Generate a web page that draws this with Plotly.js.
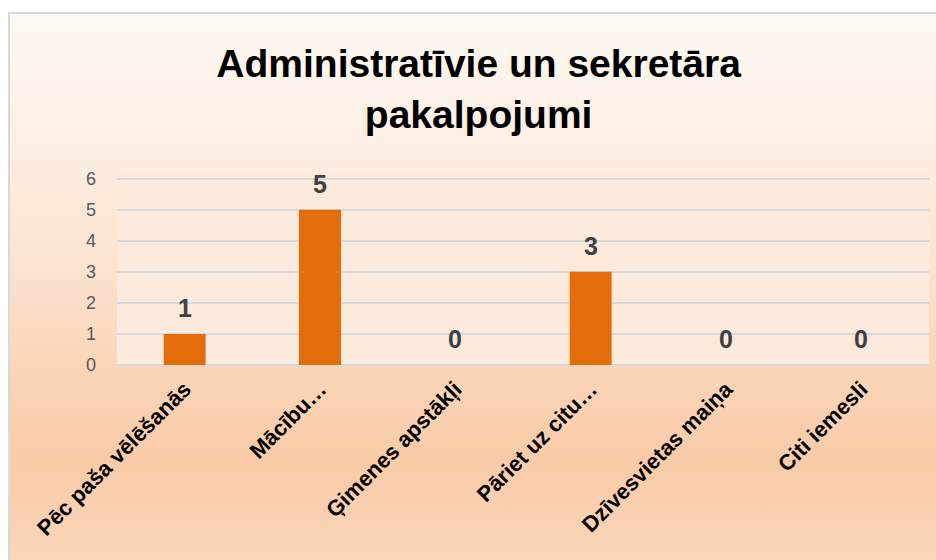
<!DOCTYPE html>
<html>
<head>
<meta charset="utf-8">
<script src="https://cdn.plot.ly/plotly-3.0.1.min.js"></script>
<style>
  html, body { margin: 0; padding: 0; background: #ffffff; width: 936px; height: 560px; overflow: hidden; }
  #frame {
    position: absolute; left: 8px; top: 12px; width: 940px; height: 560px;
    border-top: 2px solid #D9D9D9; border-left: 2px solid #D9D9D9;
    background: linear-gradient(to bottom, #FEF9F4 0%, #FDEEE2 25%, #FCE3D0 45%, #FBD6BA 62%, #F9CBA8 80%, #FAD2B4 92%, #FBD8BD 100%);
  }
  #chart { position: absolute; left: 0; top: 0; }
</style>
</head>
<body>
<div id="frame"><div id="chart"></div></div>
<script>
const categories = ["Pēc paša vēlēšanās", "Mācību…", "Ģimenes apstākļi", "Pāriet uz citu…", "Dzīvesvietas maiņa", "Citi iemesli"];
const values = [1, 5, 0, 3, 0, 0];
const yTicks = [0, 1, 2, 3, 4, 5, 6];
const titleText = "Administratīvie un sekretāra<br>pakalpojumi";

const trace = {
  type: "bar",
  x: categories,
  y: values,
  marker: { color: "#E46C0A", line: { width: 0 } },
  hoverinfo: "x+y",
  cliponaxis: false
};

const annotations = categories.map((c, i) => ({
  x: c, y: values[i], xref: "x", yref: "y",
  text: String(values[i]), showarrow: false,
  yanchor: "bottom", yshift: 10,
  font: { family: "Liberation Sans, Arial, sans-serif", size: 25, color: "#404040", weight: "bold" }
}));

const layout = {
  width: 928, height: 548,
  margin: { l: 107, r: 9, t: 160, b: 197 },
  paper_bgcolor: "rgba(0,0,0,0)",
  plot_bgcolor: "#FCEADD",
  bargap: 0.69,
  showlegend: false,
  title: {
    text: titleText,
    x: 0.505, xanchor: "center",
    y: 0.885, yref: "container", yanchor: "top",
    font: { family: "Liberation Sans, Arial, sans-serif", size: 39, color: "#000000", weight: "bold" }
  },
  xaxis: {
    type: "category",
    tickangle: -45,
    showgrid: false, zeroline: false, showline: false,
    ticks: "",
    ticklabelstandoff: 6,
    tickfont: { family: "Liberation Sans, Arial, sans-serif", size: 22, color: "#000000", weight: "bold" }
  },
  yaxis: {
    range: [yTicks[0], yTicks[yTicks.length - 1] + 0.15],
    tickmode: "linear", tick0: yTicks[0], dtick: yTicks[1] - yTicks[0],
    showgrid: true, gridcolor: "#D9D9D9", gridwidth: 2,
    zeroline: true, zerolinecolor: "#D9D9D9", zerolinewidth: 2,
    showline: false, ticks: "",
    ticklabelstandoff: 20,
    tickfont: { family: "Liberation Sans, Arial, sans-serif", size: 18, color: "#595959" }
  },
  annotations: annotations
};

Plotly.newPlot("chart", [trace], layout, { displayModeBar: false, staticPlot: true });
</script>
</body>
</html>
